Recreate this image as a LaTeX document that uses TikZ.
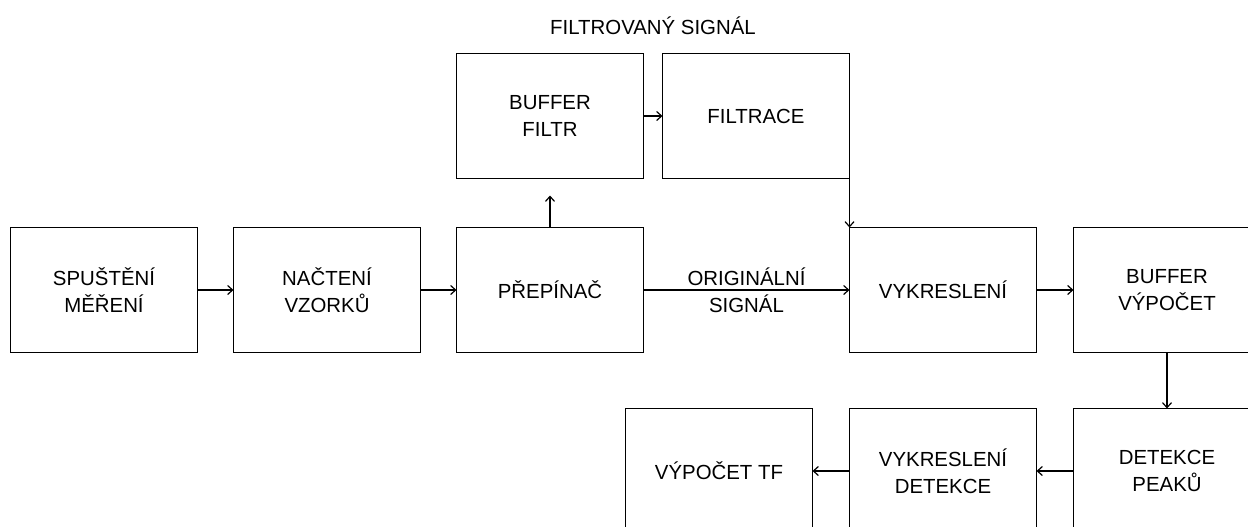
\documentclass[tikz,border=0pt]{standalone}
\usepackage{fontspec}
\setmainfont{Liberation Sans}
\usepackage{tikz}
\usetikzlibrary{positioning,arrows.meta,calc}
\tikzset{
  blok/.style={draw, line width=0.8pt, minimum width=93.5pt, minimum height=62.5pt,
               inner sep=0pt, outer sep=0pt, align=center, font=\fontsize{10.2pt}{13.5pt}\selectfont},
  arrow/.style={-{Straight Barb[length=2.5pt,width=4.5pt]}, line width=0.6pt},
  popis/.style={align=center, inner sep=0pt, font=\fontsize{10.2pt}{13.5pt}\selectfont},
}
\begin{document}
\begin{tikzpicture}[x=0.5pt, y=-0.5pt]
  \useasboundingbox (0,0) rectangle (1248,526);

  \node[blok]                          (spust)      at (104,290) {SPUŠTĚNÍ\\MĚŘENÍ};
  \node[blok, right=18pt of spust]     (nacteni)    {NAČTENÍ\\VZORKŮ};
  \node[blok, right=18pt of nacteni]   (prepinac)   {PŘEPÍNAČ};
  \node[blok, above=24.5pt of prepinac] (buffiltr)  {BUFFER\\FILTR};
  \node[blok, right=9.5pt of buffiltr] (filtrace)   {FILTRACE};
  \node[blok, right=103pt of prepinac] (vykresleni) {VYKRESLENÍ};
  \node[blok, right=18.5pt of vykresleni] (bufvyp)  {BUFFER\\VÝPOČET};
  \node[blok, below=28pt of bufvyp]    (detekce)    {DETEKCE\\PEAKŮ};
  \node[blok, left=18.5pt of detekce]  (vykrdet)    {VYKRESLENÍ\\DETEKCE};
  \node[blok, left=18.5pt of vykrdet]  (vypocet)    {VÝPOČET TF};

  \node[popis] (filtsig) at ($(buffiltr.north)!0.5!(filtrace.north)+(0,-28)$) {FILTROVANÝ SIGNÁL};

  \draw[arrow] (spust) -- (nacteni);
  \draw[arrow] (nacteni) -- (prepinac);
  \draw[arrow, shorten >=8.5pt] (prepinac) -- (buffiltr);
  \draw[arrow] (buffiltr) -- (filtrace);
  \draw[arrow] (filtrace.south east) -- (vykresleni.north west);
  \draw[arrow] (prepinac) -- node[popis]{ORIGINÁLNÍ\\SIGNÁL} (vykresleni);
  \draw[arrow] (vykresleni) -- (bufvyp);
  \draw[arrow] (bufvyp) -- (detekce);
  \draw[arrow] (detekce) -- (vykrdet);
  \draw[arrow] (vykrdet) -- (vypocet);
\end{tikzpicture}
\end{document}
